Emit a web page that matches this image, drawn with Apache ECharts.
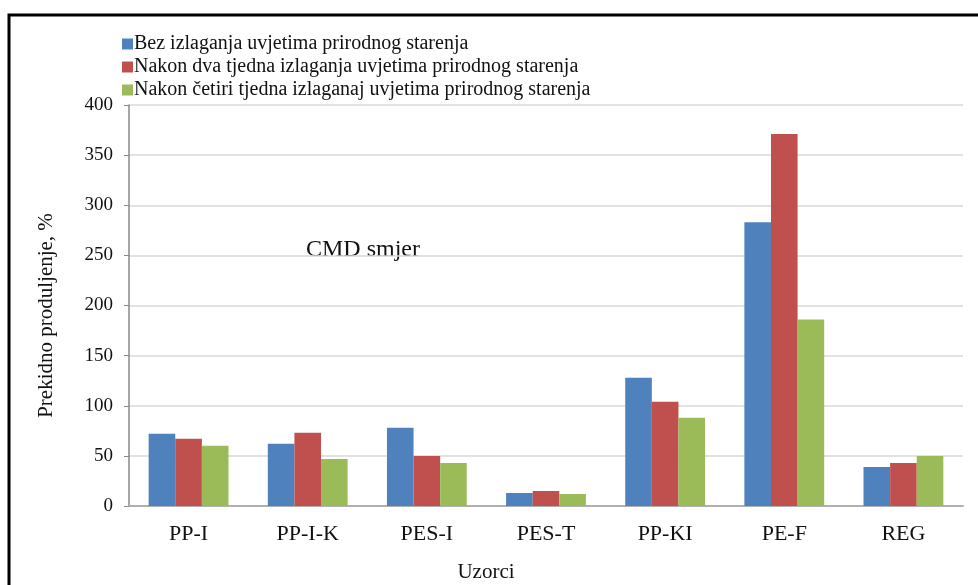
<!DOCTYPE html>
<html>
<head>
<meta charset="utf-8">
<script src="https://cdn.jsdelivr.net/npm/echarts@6/dist/echarts.min.js"></script>
<style>
  html, body { margin: 0; padding: 0; background: #fff; }
  #chart { width: 978px; height: 585px; }
</style>
</head>
<body>
<div id="chart"></div>
<script>
// data
const categories = ['PP-I', 'PP-I-K', 'PES-I', 'PES-T', 'PP-KI', 'PE-F', 'REG'];
const seriesNames = [
  'Bez izlaganja uvjetima prirodnog starenja',
  'Nakon dva tjedna izlaganja uvjetima prirodnog starenja',
  'Nakon četiri tjedna izlaganaj uvjetima prirodnog starenja'
];
const bezIzlaganja = [72, 62, 78, 13, 128, 283, 39];
const dvaTjedna = [67, 73, 50, 15, 104, 371, 43];
const cetiriTjedna = [60, 47, 43, 12, 88, 186, 50];
const colors = ['#4F81BD', '#C0504D', '#9BBB59'];

const font = 'Liberation Serif, Times New Roman, serif';
const chart = echarts.init(document.getElementById('chart'));

function bar(name, data, color) {
  return {
    name: name,
    type: 'bar',
    data: data,
    barGap: '0%',
    barCategoryGap: '33%',
    itemStyle: { color: color },
    emphasis: { disabled: true }
  };
}

let option = {
  backgroundColor: '#ffffff',
  animation: false,
  textStyle: { fontFamily: font },
  graphic: [
    {
      type: 'rect',
      shape: { x: 9, y: 15, width: 1000, height: 600 },
      style: { fill: 'none', stroke: '#000', lineWidth: 3 },
      silent: true
    },
    {
      type: 'text',
      left: 306,
      top: 238,
      style: { text: 'CMD smjer', font: '24px ' + font, fill: '#111' }
    }
  ],
  legend: {
    orient: 'vertical',
    left: 117,
    top: 28,
    itemWidth: 11,
    itemHeight: 11,
    itemGap: 1,
    icon: 'rect',
    textStyle: { fontFamily: font, fontSize: 20, lineHeight: 22, color: '#111', padding: [0, 0, 0, -4] },
    data: seriesNames
  },
  grid: { left: 129, right: 15, top: 105, bottom: 79, outerBoundsMode: 'none' },
  xAxis: {
    type: 'category',
    data: categories,
    name: 'Uzorci',
    nameLocation: 'middle',
    nameGap: 56,
    nameTextStyle: { fontFamily: font, fontSize: 21, color: '#111', padding: [0, 120, 0, 0] },
    axisLine: { lineStyle: { color: '#b0b0b0', width: 2 } },
    axisTick: { show: false },
    axisLabel: { fontFamily: font, fontSize: 22, color: '#111', margin: 17 }
  },
  yAxis: {
    type: 'value',
    min: 0,
    max: 400,
    interval: 50,
    name: 'Prekidno produljenje, %',
    nameLocation: 'middle',
    nameGap: 72,
    nameTextStyle: { fontFamily: font, fontSize: 21, color: '#111', padding: [0, 0, 0, -20] },
    axisLine: { show: true, lineStyle: { color: '#888', width: 1.5 } },
    axisTick: { show: true, length: 5, lineStyle: { color: '#888' } },
    axisLabel: { fontFamily: font, fontSize: 19, color: '#111', margin: 16 },
    splitLine: { lineStyle: { color: '#d9d9d9', width: 1.5 } }
  },
  series: [
    bar(seriesNames[0], bezIzlaganja, colors[0]),
    bar(seriesNames[1], dvaTjedna, colors[1]),
    bar(seriesNames[2], cetiriTjedna, colors[2])
  ]
};
chart.setOption(option);
</script>
</body>
</html>
